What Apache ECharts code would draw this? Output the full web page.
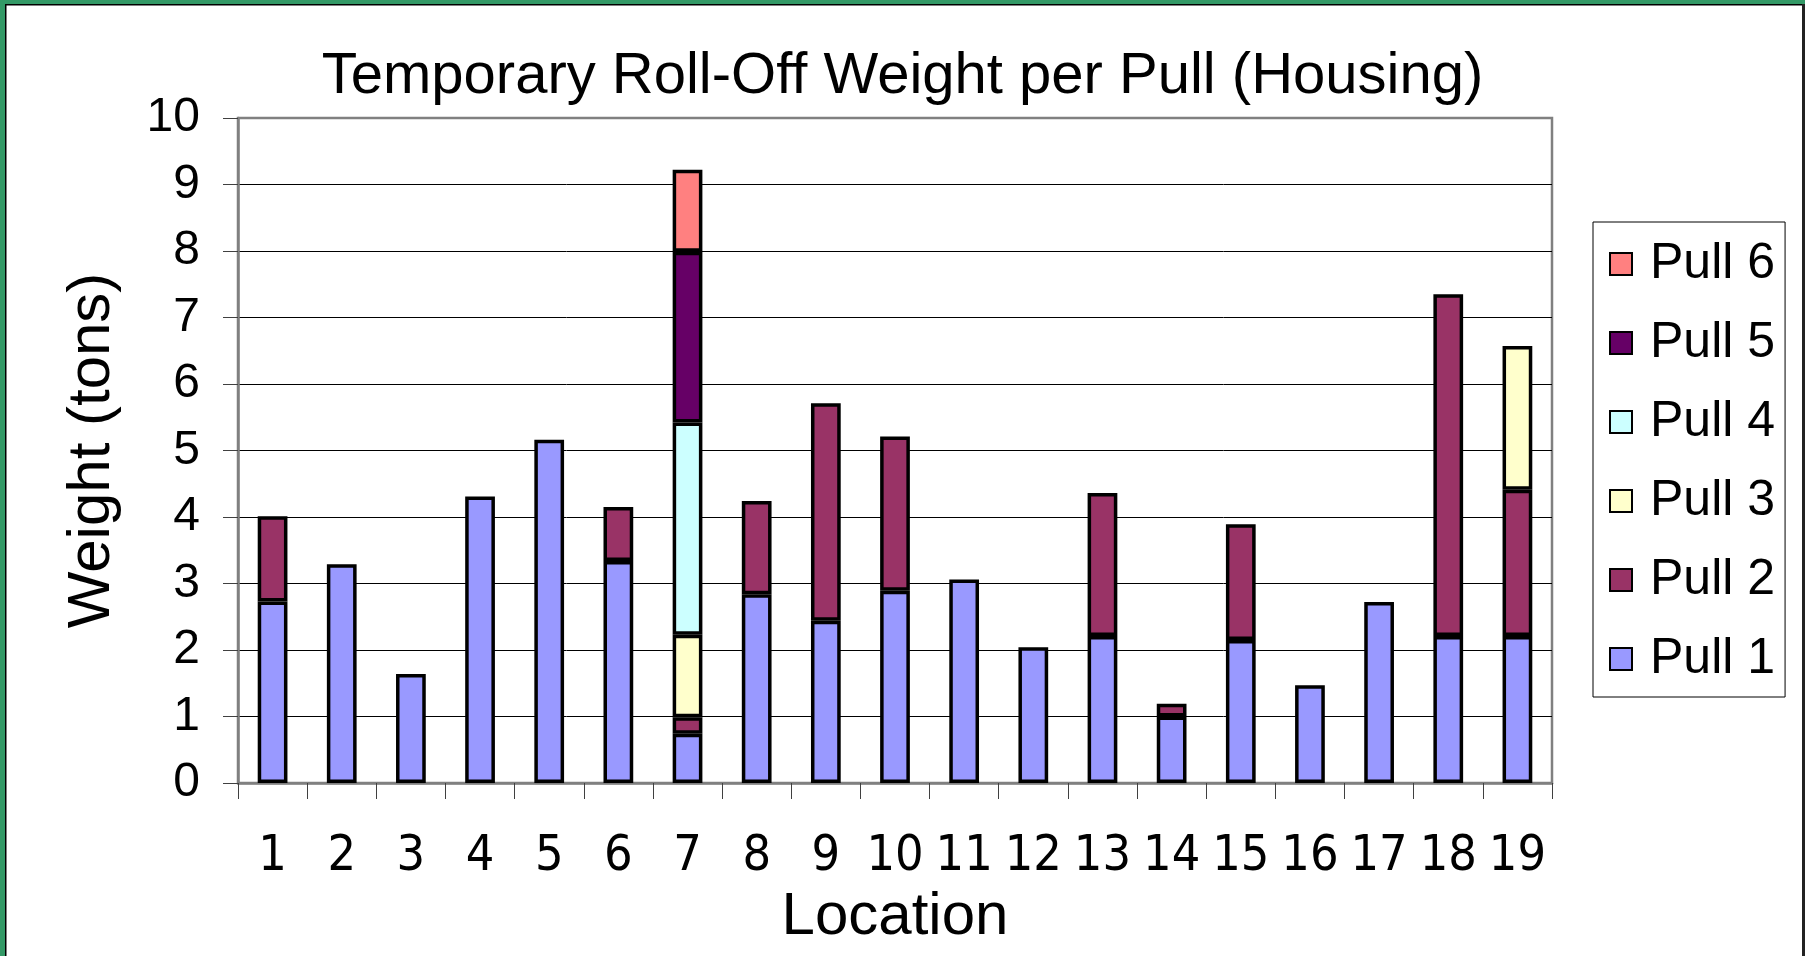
<!DOCTYPE html>
<html>
<head>
<meta charset="utf-8">
<style>
html,body{margin:0;padding:0;background:#fff;}
#chart{width:1805px;height:956px;}
</style>
<script src="https://cdn.jsdelivr.net/npm/echarts@6/dist/echarts.min.js"></script>
</head>
<body>
<div id="chart"></div>
<script>
const categories = ['1','2','3','4','5','6','7','8','9','10','11','12','13','14','15','16','17','18','19'];
const pull1 = [2.73, 3.29, 1.64, 4.31, 5.16, 3.34, 0.74, 2.84, 2.44, 2.89, 3.06, 2.04, 2.21, 1.00, 2.15, 1.47, 2.72, 2.21, 2.21];
const pull2 = [1.28, null, null, null, null, 0.81, 0.25, 1.40, 3.27, 2.32, null, null, 2.15, 0.19, 1.74, null, null, 5.14, 2.20];
const pull3 = [null, null, null, null, null, null, 1.24, null, null, null, null, null, null, null, null, null, null, null, 2.16];
const pull4 = [null, null, null, null, null, null, 3.19, null, null, null, null, null, null, null, null, null, null, null, null];
const pull5 = [null, null, null, null, null, null, 2.57, null, null, null, null, null, null, null, null, null, null, null, null];
const pull6 = [null, null, null, null, null, null, 1.23, null, null, null, null, null, null, null, null, null, null, null, null];
const seriesNames = ['Pull 1','Pull 2','Pull 3','Pull 4','Pull 5','Pull 6'];
const seriesColors = ['#9999FF','#993366','#FFFFCC','#CCFFFF','#660066','#FF8080'];
const seriesData = [pull1, pull2, pull3, pull4, pull5, pull6];

const FONT = "'Liberation Sans', Arial, sans-serif";
const NARROW = "'Liberation Sans Narrow', 'Arial Narrow', 'DejaVu Sans Condensed', sans-serif";

const chart = echarts.init(document.getElementById('chart'), null, {renderer: 'canvas'});

const splitColors = [];
for (let i = 0; i <= 10; i++) splitColors.push(i === 10 ? '#808080' : '#000000');

const option = {
  animation: false,
  backgroundColor: '#ffffff',
  title: {
    text: 'Temporary Roll-Off Weight per Pull (Housing)',
    left: 'center',
    top: 43,
    textStyle: {fontFamily: FONT, fontSize: 58, fontWeight: 'normal', color: '#000'}
  },
  grid: {
    left: 238, right: 253, top: 118, bottom: 173,
    show: true, borderColor: '#808080', borderWidth: 2.5, backgroundColor: 'transparent'
  },
  legend: {
    orient: 'vertical',
    left: 1593, top: 222,
    data: seriesNames.slice().reverse(),
    icon: 'rect',
    itemWidth: 22, itemHeight: 22,
    itemGap: 29,
    padding: [17, 10, 13, 16],
    borderColor: '#000', borderWidth: 1,
    backgroundColor: '#fff',
    textStyle: {fontFamily: FONT, fontSize: 50, color: '#000', padding: [0, 0, 0, 13]}
  },
  xAxis: {
    type: 'category',
    data: categories,
    name: 'Location',
    nameLocation: 'middle',
    nameGap: 104,
    nameTextStyle: {fontFamily: FONT, fontSize: 60, color: '#000'},
    axisLine: {lineStyle: {color: '#808080', width: 2.5}},
    axisTick: {show: true, length: 16, lineStyle: {color: '#404040', width: 1}},
    axisLabel: {interval: 0, margin: 49, fontFamily: NARROW, fontSize: 50, color: '#000'},
    splitLine: {show: false}
  },
  yAxis: {
    type: 'value',
    min: 0, max: 10, interval: 1,
    name: 'Weight (tons)',
    nameLocation: 'middle',
    nameGap: 116,
    nameRotate: 90,
    nameTextStyle: {fontFamily: FONT, fontSize: 60, color: '#000'},
    axisLine: {show: true, lineStyle: {color: '#808080', width: 2.5}},
    axisTick: {show: true, length: 15, lineStyle: {color: '#404040', width: 1}},
    axisLabel: {margin: 38, fontFamily: FONT, fontSize: 48, color: '#000'},
    splitLine: {show: true, lineStyle: {color: splitColors, width: 1}}
  },
  series: seriesNames.map((n, i) => ({
    name: n,
    type: 'bar',
    stack: 'total',
    data: seriesData[i],
    barCategoryGap: '57%',
    itemStyle: {color: seriesColors[i], borderColor: '#000', borderWidth: 3.5}
  })),
  graphic: [
    {type: 'rect', shape: {x: 0, y: 0, width: 5, height: 956}, style: {fill: '#339966'}, silent: true},
    {type: 'rect', shape: {x: 0, y: 0, width: 1805, height: 4}, style: {fill: '#339966'}, silent: true},
    {type: 'rect', shape: {x: 5, y: 4, width: 1.5, height: 952}, style: {fill: '#000'}, silent: true},
    {type: 'rect', shape: {x: 5, y: 4, width: 1800, height: 1.5}, style: {fill: '#000'}, silent: true},
    {type: 'rect', shape: {x: 1802, y: 4, width: 3, height: 952}, style: {fill: '#222'}, silent: true}
  ]
};
chart.setOption(option);
</script>
</body>
</html>
